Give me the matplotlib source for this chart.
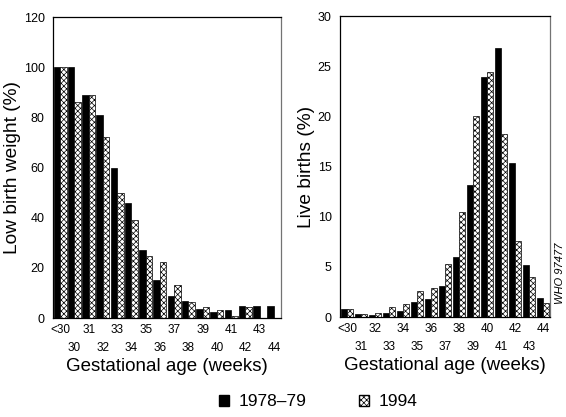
import numpy as np
import matplotlib
matplotlib.use("Agg")
import matplotlib.pyplot as plt
from matplotlib.patches import Patch

# Low birth weight by gestational age (left panel)
lbw_weeks = ["<30", "30", "31", "32", "33", "34", "35", "36", "37",
             "38", "39", "40", "41", "42", "43", "44"]
lbw_1978 = [100, 100, 89, 81, 60, 46, 27, 15.3, 8.6, 6.9, 3.5, 2.2, 3.1, 4.8, 4.8, 4.8]
lbw_1994 = [100, 86, 89, 72, 50, 39, 24.6, 22.3, 13.3, 6.4, 4.4, 3.1, 0.7, 4.2, 0, 0]

# Live births by gestational age (right panel)
lb_weeks = ["<30", "31", "32", "33", "34", "35", "36", "37", "38",
            "39", "40", "41", "42", "43", "44"]
lb_1978 = [0.8, 0.25, 0.2, 0.4, 0.6, 1.5, 1.8, 3.1, 6.0, 13.2, 23.9, 26.8, 15.3, 5.2, 1.9]
lb_1994 = [0.8, 0.25, 0.35, 1.0, 1.3, 2.6, 2.9, 5.3, 10.5, 20.0, 24.4, 18.2, 7.6, 4.0, 1.4]

SERIES = ["1978\u201379", "1994"]
HATCH = "xxxxxx"

plt.rcParams["font.family"] = ["Liberation Sans", "DejaVu Sans"]
plt.rcParams["hatch.linewidth"] = 0.5
TICK_FONT = ["Liberation Sans Narrow", "Liberation Sans", "DejaVu Sans"]

fig = plt.figure(figsize=(5.66, 4.17), dpi=100)
ax1 = fig.add_axes([0.0936, 0.2374, 0.403, 0.7218])
ax2 = fig.add_axes([0.6007, 0.2398, 0.371, 0.7218])


def draw_panel(ax, weeks, black_vals, hatch_vals, ymax, ystep, ylabel):
    x = np.arange(len(weeks))
    w = 0.46
    ax.bar(x - w / 2, black_vals, width=w, color="black", edgecolor="black", lw=0.5)
    ax.bar(x + w / 2, hatch_vals, width=w, color="white", edgecolor="black",
           hatch=HATCH, lw=0.5)
    ax.set_xlim(-0.5, len(weeks) - 0.5)
    ax.set_ylim(0, ymax)
    ax.set_yticks(np.arange(0, ymax + 1, ystep))
    # two staggered rows of week labels: even ones on top, odd ones below
    ax.set_xticks(x[0::2])
    ax.set_xticklabels(weeks[0::2], family=TICK_FONT, fontsize=8.5)
    ax.set_xticks(x[1::2], minor=True)
    ax.set_xticklabels(weeks[1::2], minor=True, family=TICK_FONT, fontsize=8.5)
    for lab in ax.get_yticklabels():
        lab.set_family(TICK_FONT)
        lab.set_fontsize(9)
    ax.tick_params(axis="x", which="major", length=0, pad=4)
    ax.tick_params(axis="x", which="minor", length=0, pad=17)
    ax.tick_params(axis="y", length=0, pad=6)
    for side in ax.spines.values():
        side.set_linewidth(0.9)
    ax.spines["right"].set_color("0.45")
    ax.set_ylabel(ylabel, fontsize=13.8, labelpad=2)
    ax.set_xlabel("Gestational age (weeks)", fontsize=13.5, labelpad=3)


draw_panel(ax1, lbw_weeks, lbw_1978, lbw_1994, 120, 20, "Low birth weight (%)")
draw_panel(ax2, lb_weeks, lb_1978, lb_1994, 30, 5, "Live births (%)")

fig.text(0.99, 0.345, "WHO 97477", rotation=90, ha="center", va="center",
         fontsize=8, style="italic")

handles = [Patch(facecolor="black", edgecolor="black", label=SERIES[0]),
           Patch(facecolor="white", edgecolor="black", hatch=HATCH, label=SERIES[1])]
fig.legend(handles=handles, loc="center", bbox_to_anchor=(0.562, 0.036), ncol=2,
           frameon=False, fontsize=12.5, handlelength=0.6, handleheight=0.6,
           handletextpad=0.55, columnspacing=3.0)

fig.savefig("out.png", dpi=100)
